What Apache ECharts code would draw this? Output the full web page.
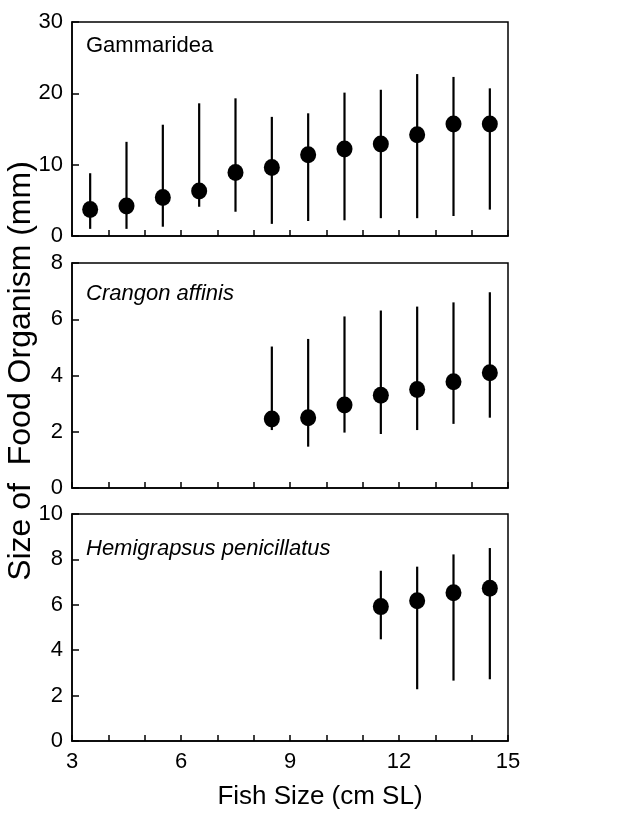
<!DOCTYPE html>
<html>
<head>
<meta charset="utf-8">
<script src="https://cdn.jsdelivr.net/npm/echarts@6/dist/echarts.min.js"></script>
<style>html,body{margin:0;padding:0;background:#fff;}#c{width:618px;height:814px;}</style>
</head>
<body>
<div id="c"></div>
<script>
// Fish size classes (cm SL)
const gamSizes = [3.5, 4.5, 5.5, 6.5, 7.5, 8.5, 9.5, 10.5, 11.5, 12.5, 13.5, 14.5];
const gamMean  = [3.7, 4.2, 5.4, 6.3, 8.9, 9.6, 11.4, 12.2, 12.9, 14.2, 15.7, 15.7];
const gamLow   = [1.0, 1.0, 1.3, 4.1, 3.4, 1.7, 2.1, 2.2, 2.5, 2.5, 2.8, 3.7];
const gamHigh  = [8.8, 13.2, 15.6, 18.6, 19.3, 16.7, 17.2, 20.1, 20.5, 22.7, 22.3, 20.7];

const cranSizes = [8.5, 9.5, 10.5, 11.5, 12.5, 13.5, 14.5];
const cranMean  = [2.45, 2.5, 2.95, 3.3, 3.5, 3.78, 4.1];
const cranLow   = [2.06, 1.47, 1.97, 1.92, 2.06, 2.28, 2.5];
const cranHigh  = [5.03, 5.3, 6.1, 6.31, 6.45, 6.6, 6.96];

const hemiSizes = [11.5, 12.5, 13.5, 14.5];
const hemiMean  = [5.92, 6.18, 6.53, 6.73];
const hemiLow   = [4.48, 2.28, 2.66, 2.72];
const hemiHigh  = [7.5, 7.68, 8.22, 8.5];

const panelNames = ['Gammaridea', 'Crangon affinis', 'Hemigrapsus penicillatus'];
const yMax = [30, 8, 10];
const yInterval = [10, 2, 2];
const xLabelTicks = [3, 6, 9, 12, 15];
const xTitle = 'Fish Size (cm SL)';
const yTitle = 'Size of  Food Organism (mm)';

const FONT = '"Liberation Sans", Arial, sans-serif';
const chart = echarts.init(document.getElementById('c'), null, {renderer: 'canvas'});

const gridTops = [22, 263, 514];
const gridHeights = [214, 225, 227];
const grids = gridTops.map((t, i) => ({
  left: 72, width: 436, top: t, height: gridHeights[i],
  show: true, borderColor: '#000', borderWidth: 1.5, backgroundColor: 'transparent'
}));

const xAxes = [0, 1, 2].map(i => ({
  type: 'value', gridIndex: i, min: 3, max: 15, interval: 1,
  axisLine: {show: true, onZero: false, lineStyle: {color: '#000', width: 1.5}},
  axisTick: {show: true, inside: true, length: 6, lineStyle: {color: '#000', width: 1.5}},
  splitLine: {show: false},
  axisLabel: {
    show: i === 2, color: '#000', fontSize: 22, fontFamily: FONT, margin: 10,
    formatter: v => xLabelTicks.indexOf(v) >= 0 ? String(v) : ''
  }
}));

const yAxes = [0, 1, 2].map(i => ({
  type: 'value', gridIndex: i, min: 0, max: yMax[i], interval: yInterval[i],
  axisLine: {show: true, lineStyle: {color: '#000', width: 1.5}},
  axisTick: {show: true, inside: true, length: 7, lineStyle: {color: '#000', width: 1.5}},
  splitLine: {show: false},
  axisLabel: {color: '#000', fontSize: 22, fontFamily: FONT, margin: 9}
}));

function errSeries(i, xs, lo, hi) {
  return {
    type: 'custom', xAxisIndex: i, yAxisIndex: i,
    data: xs.map((x, k) => [x, lo[k], hi[k]]),
    renderItem: function (params, api) {
      const p1 = api.coord([api.value(0), api.value(1)]);
      const p2 = api.coord([api.value(0), api.value(2)]);
      return {type: 'line', shape: {x1: p1[0], y1: p1[1], x2: p2[0], y2: p2[1]},
              style: {stroke: '#000', lineWidth: 2.2}};
    },
    silent: true, z: 2
  };
}
function dotSeries(i, xs, m) {
  return {
    type: 'scatter', xAxisIndex: i, yAxisIndex: i,
    data: xs.map((x, k) => [x, m[k]]),
    symbol: 'circle', symbolSize: [16, 17],
    itemStyle: {color: '#000', opacity: 1},
    silent: true, z: 3
  };
}

const labelY = [47, 295, 550];
const graphics = panelNames.map((n, i) => ({
  type: 'text', left: 86, top: labelY[i] - 12,
  style: {text: n, fill: '#000', font: (i === 0 ? 'normal ' : 'italic ') + '22px ' + FONT}
}));
graphics.push({
  type: 'text', x: 320, y: 797,
  style: {text: xTitle, fill: '#000', font: '26px ' + FONT, align: 'center', verticalAlign: 'middle'}
});
graphics.push({
  type: 'text', x: 21, y: 371, rotation: Math.PI / 2,
  style: {text: yTitle, fill: '#000', font: '32px ' + FONT, align: 'center', verticalAlign: 'middle'}
});

chart.setOption({
  animation: false,
  backgroundColor: '#fff',
  grid: grids,
  xAxis: xAxes,
  yAxis: yAxes,
  graphic: graphics,
  series: [
    errSeries(0, gamSizes, gamLow, gamHigh), dotSeries(0, gamSizes, gamMean),
    errSeries(1, cranSizes, cranLow, cranHigh), dotSeries(1, cranSizes, cranMean),
    errSeries(2, hemiSizes, hemiLow, hemiHigh), dotSeries(2, hemiSizes, hemiMean)
  ]
});
</script>
</body>
</html>
